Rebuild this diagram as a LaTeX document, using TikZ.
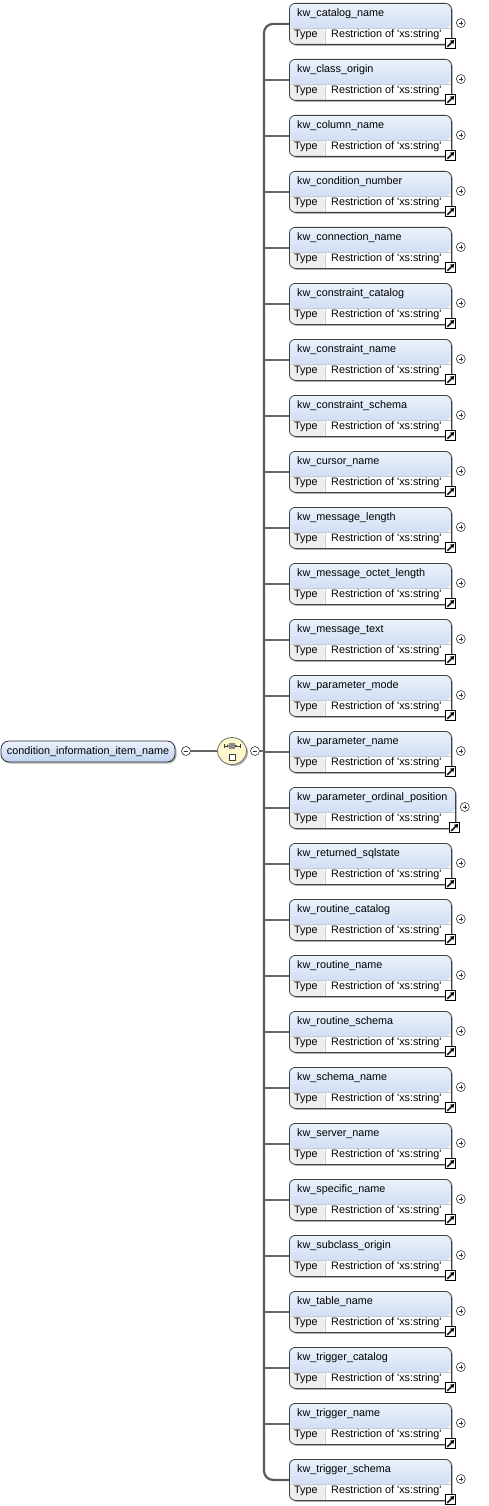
\documentclass[tikz,border=0pt]{standalone}
\usepackage{fontspec}
\setmainfont{Liberation Sans}
\usetikzlibrary{positioning,shapes.geometric,shadows,arrows.meta}

%colores
\definecolor{cabezaa}{RGB}{236,242,252}
\definecolor{cabezab}{RGB}{190,210,240}
\definecolor{gristipo}{RGB}{238,238,238}
\definecolor{amarillo}{RGB}{253,249,205}

\tikzset{
    caja/.style={draw=black!75, line width=0.8pt, rounded corners=6pt, fill=white,
        minimum height=41pt, anchor=north west, inner sep=0pt,
        drop shadow={shadow xshift=1.5pt, shadow yshift=-1.5pt, fill=black!30, opacity=1},
        path picture={
            \shade[top color=cabezaa, bottom color=cabezab] (path picture bounding box.north west) rectangle ([yshift=-25pt]path picture bounding box.north east);
            \fill[gristipo] ([yshift=-25pt]path picture bounding box.north west) rectangle ([xshift=36pt]path picture bounding box.south west);
            \draw[black!20, line width=0.6pt] ([yshift=-25pt]path picture bounding box.north west) -- ([yshift=-25pt]path picture bounding box.north east);
            \draw[black!20, line width=0.6pt] ([xshift=36pt,yshift=-25pt]path picture bounding box.north west) -- ([xshift=36pt]path picture bounding box.south west);
        }},
    texto/.style={anchor=west, inner sep=0pt, font=\fontsize{10.8}{12}\selectfont},
    mas/.style={circle, draw=black!80, fill=white, minimum size=9pt, inner sep=0pt, line width=0.6pt,
        path picture={
            \draw[line width=0.6pt] ([xshift=-2.3pt]path picture bounding box.center) -- ([xshift=2.3pt]path picture bounding box.center)
                ([yshift=-2.3pt]path picture bounding box.center) -- ([yshift=2.3pt]path picture bounding box.center);
        }},
    menos/.style={circle, draw=black!80, fill=white, minimum size=9pt, inner sep=0pt, line width=0.6pt,
        path picture={
            \draw[line width=0.6pt] ([xshift=-2.3pt]path picture bounding box.center) -- ([xshift=2.3pt]path picture bounding box.center);
        }},
    enlace/.style={draw=black, fill=white, minimum size=10pt, inner sep=0pt, line width=0.7pt,
        path picture={
            \draw[line width=1.5pt, -{Triangle[length=3.5pt,width=4.5pt]}] ([xshift=2pt,yshift=2pt]path picture bounding box.south west) -- ([xshift=-1.2pt,yshift=-1.2pt]path picture bounding box.north east);
        }},
    conector/.style={draw=black!60, line width=1.5pt},
    tronco/.style={draw=black!65, line width=2.2pt, rounded corners=9pt},
    raiz/.style={draw=black!80, line width=0.8pt, rounded corners=8pt, minimum width=174pt, minimum height=21pt,
        top color=cabezaa, bottom color=cabezab, inner sep=0pt, font=\fontsize{10.8}{12}\selectfont,
        drop shadow={shadow xshift=1.5pt, shadow yshift=-1.5pt, fill=black!30, opacity=1}},
    secuencia/.style={ellipse, draw=black!55, line width=0.8pt, fill=amarillo, minimum width=29pt, minimum height=27pt,
        drop shadow={shadow xshift=1.5pt, shadow yshift=-1.5pt, fill=black!30, opacity=1}}
}

\begin{document}
\begin{tikzpicture}[x=1pt,y=-1pt]
    \useasboundingbox (0,0) rectangle (489,1506);
    \coordinate (tx) at (264,0);

    %cajas
    \foreach \nombre/\ancho [count=\i from 0] in {kw\_catalog\_name/162, kw\_class\_origin/162,
        kw\_column\_name/162, kw\_condition\_number/162, kw\_connection\_name/162,
        kw\_constraint\_catalog/162, kw\_constraint\_name/162, kw\_constraint\_schema/162,
        kw\_cursor\_name/162, kw\_message\_length/162, kw\_message\_octet\_length/162,
        kw\_message\_text/162, kw\_parameter\_mode/162, kw\_parameter\_name/162,
        kw\_parameter\_ordinal\_position/166, kw\_returned\_sqlstate/162, kw\_routine\_catalog/162,
        kw\_routine\_name/162, kw\_routine\_schema/162, kw\_schema\_name/162, kw\_server\_name/162,
        kw\_specific\_name/162, kw\_subclass\_origin/162, kw\_table\_name/162,
        kw\_trigger\_catalog/162, kw\_trigger\_name/162, kw\_trigger\_schema/162}
    {
        \node[caja, minimum width=\ancho pt] (c\i) at (289,{3+56*\i}) {};
        \node[texto] (t\i) at ([xshift=8pt,yshift=-11pt]c\i.north west) {\nombre};
        \node[texto] (ty\i) at ([xshift=5pt,yshift=-32pt]c\i.north west) {Type};
        \node[texto] (r\i) at ([xshift=42pt,yshift=-32pt]c\i.north west) {Restriction of \textquotesingle xs:string\textquotesingle};
        \node[mas] (m\i) at ([xshift=9pt,yshift=-20pt]c\i.north east) {};
        \node[enlace] (e\i) at ([xshift=-1.5pt,yshift=1pt]c\i.south east) {};
    }

    %tronco
    \draw[tronco] (c0.west) -- (c0.west -| tx) -- (c26.west -| tx) -- (c26.west);
    \foreach \i in {1,...,25}
        \draw[conector] (c\i.west -| tx) -- (c\i.west);

    %raiz y secuencia
    \node[raiz] (raiz) at (88,751.5) {condition\_information\_item\_name};
    \node[menos] (n1) at (186,751) {};
    \node[secuencia] (sec) at (232,751) {};
    \node[menos] (n2) at (255,751) {};
    \draw[conector] (n1) -- (sec);
    \draw[conector] (n2) -- (n2 -| tx);

    %icono
    \fill[black!45] ([xshift=-3pt,yshift=2pt]sec.center) rectangle ([xshift=3pt,yshift=8pt]sec.center);
    \draw[black!75, line width=0.6pt, fill=white] ([xshift=-3pt,yshift=-9pt]sec.center) rectangle ([xshift=3pt,yshift=-3pt]sec.center);
    \draw[black!75, line width=0.8pt, {Bar[width=4pt]}-{Triangle[length=2pt,width=3pt]}] ([xshift=-8.5pt,yshift=5pt]sec.center) -- ([xshift=-3pt,yshift=5pt]sec.center);
    \draw[black!75, line width=0.8pt, {Triangle[length=2pt,width=3pt,reversed]}-{Bar[width=4pt]}] ([xshift=3pt,yshift=5pt]sec.center) -- ([xshift=8.5pt,yshift=5pt]sec.center);
\end{tikzpicture}
\end{document}
